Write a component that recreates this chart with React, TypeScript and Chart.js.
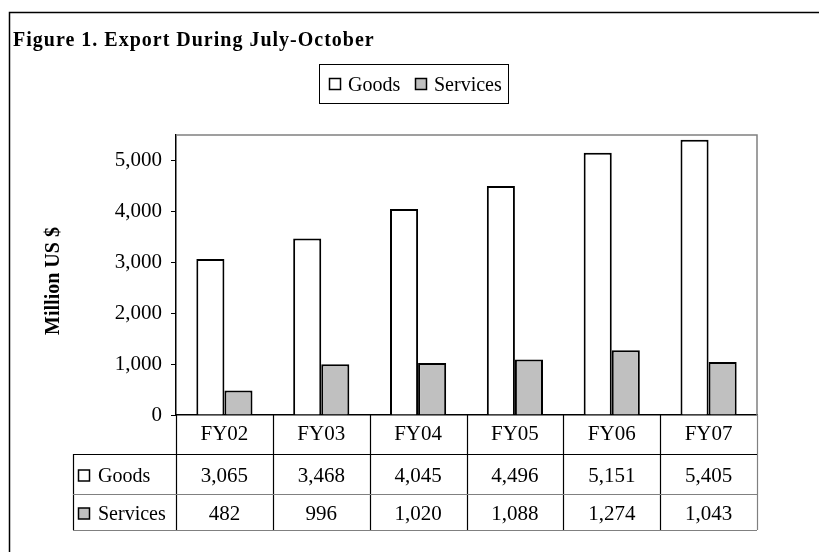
import React, { useEffect, useRef } from "react";
import { Chart, registerables } from "chart.js";

Chart.register(...registerables);

const titleText = "Figure 1. Export During July-October";
const yAxisTitle = "Million US $";
const categories = ["FY02", "FY03", "FY04", "FY05", "FY06", "FY07"];
const seriesNames = ["Goods", "Services"];
const goods = [3065, 3468, 4045, 4496, 5151, 5405];
const services = [482, 996, 1020, 1088, 1274, 1043];
const seriesColors = ["#ffffff", "#c0c0c0"];
const yMin = 0;
const yMax = 5500;
const yTicks = [0, 1000, 2000, 3000, 4000, 5000];

const FONT = '"Liberation Serif", "Times New Roman", serif';
const fmt = (v: number) => v.toLocaleString("en-US");

const decorPlugin = {
  id: "decor",
  afterDraw(chart: any) {
    const ctx = chart.ctx as CanvasRenderingContext2D;
    const ca = chart.chartArea;
    const xs = chart.scales.x;
    ctx.save();

    // outer frame
    ctx.strokeStyle = "#000";
    ctx.lineWidth = 1.5;
    ctx.strokeRect(9.5, 12.5, 900, 600);

    // title
    ctx.fillStyle = "#000";
    ctx.font = `bold 20px ${FONT}`;
    (ctx as any).letterSpacing = "1px";
    ctx.textAlign = "left";
    ctx.textBaseline = "alphabetic";
    ctx.fillText(titleText, 13, 46);
    (ctx as any).letterSpacing = "0px";

    // legend
    ctx.lineWidth = 1;
    ctx.strokeStyle = "#000";
    ctx.strokeRect(319.5, 64.5, 189, 39);
    ctx.font = `20px ${FONT}`;
    const legendX = [329, 415];
    chart.data.datasets.forEach((ds: any, i: number) => {
      ctx.fillStyle = ds.backgroundColor;
      ctx.fillRect(legendX[i] + 0.5, 78.5, 11, 11);
      ctx.lineWidth = 1.5;
      ctx.strokeStyle = "#000";
      ctx.strokeRect(legendX[i] + 0.5, 78.5, 11, 11);
      ctx.fillStyle = "#000";
      ctx.fillText(ds.label, legendX[i] + 19, 91);
    });

    // y axis title
    ctx.save();
    ctx.translate(54, (ca.top + ca.bottom) / 2 + 6);
    ctx.rotate(-Math.PI / 2);
    ctx.font = `bold 20px ${FONT}`;
    ctx.textAlign = "center";
    ctx.textBaseline = "middle";
    ctx.fillStyle = "#000";
    ctx.fillText(yAxisTitle, 0, 0);
    ctx.restore();

    // plot area top/right border
    ctx.strokeStyle = "#808080";
    ctx.lineWidth = 1.5;
    ctx.beginPath();
    ctx.moveTo(ca.left, ca.top);
    ctx.lineTo(ca.right, ca.top);
    ctx.lineTo(ca.right, ca.bottom);
    ctx.stroke();

    // data table
    const n = chart.data.labels.length;
    const step = (ca.right - ca.left) / n;
    const tLeft = 73;
    const rowTop = ca.bottom;
    const row1 = rowTop + 39;
    const row2 = row1 + 40;
    const row3 = row2 + 36;
    ctx.lineWidth = 1.2;
    ctx.strokeStyle = "#000";
    for (let i = 0; i <= n; i++) {
      const x = Math.round(ca.left + i * step) + 0.5;
      ctx.strokeStyle = i === n ? "#808080" : "#000";
      ctx.beginPath();
      ctx.moveTo(x, rowTop);
      ctx.lineTo(x, row3);
      ctx.stroke();
    }
    ctx.strokeStyle = "#000";
    ctx.beginPath();
    ctx.moveTo(tLeft + 0.5, row1);
    ctx.lineTo(tLeft + 0.5, row3);
    ctx.stroke();
    ctx.beginPath();
    ctx.moveTo(tLeft, row1 + 0.5);
    ctx.lineTo(ca.right, row1 + 0.5);
    ctx.stroke();
    ctx.strokeStyle = "#808080";
    ctx.beginPath();
    ctx.moveTo(tLeft, row2 + 0.5);
    ctx.lineTo(ca.right, row2 + 0.5);
    ctx.stroke();
    ctx.beginPath();
    ctx.moveTo(tLeft, row3 + 0.5);
    ctx.lineTo(ca.right, row3 + 0.5);
    ctx.stroke();

    ctx.font = `21px ${FONT}`;
    ctx.fillStyle = "#000";
    ctx.textBaseline = "alphabetic";
    ctx.textAlign = "center";
    const baselines = [rowTop + 25, row1 + 27.5, row2 + 25.5];
    chart.data.labels.forEach((lab: string, i: number) => {
      const cx = xs.getPixelForValue(i);
      ctx.fillText(lab, cx, baselines[0]);
      chart.data.datasets.forEach((ds: any, j: number) => {
        ctx.fillText(fmt(ds.data[i]), cx, baselines[j + 1]);
      });
    });
    ctx.textAlign = "left";
    ctx.font = `20px ${FONT}`;
    chart.data.datasets.forEach((ds: any, j: number) => {
      const by = baselines[j + 1];
      ctx.fillStyle = ds.backgroundColor;
      ctx.fillRect(78.5, by - 11.5, 11, 11);
      ctx.strokeStyle = "#000";
      ctx.lineWidth = 1.5;
      ctx.strokeRect(78.5, by - 11.5, 11, 11);
      ctx.fillStyle = "#000";
      ctx.fillText(ds.label, 98, by);
    });

    ctx.restore();
  },
};

export default function App() {
  const ref = useRef<HTMLCanvasElement | null>(null);
  useEffect(() => {
    document.body.style.margin = "0";
    const canvas = ref.current;
    if (!canvas) return;
    const chart = new Chart(canvas, {
      type: "bar",
      data: {
        labels: categories,
        datasets: [
          {
            label: seriesNames[0],
            data: goods,
            backgroundColor: seriesColors[0],
            borderColor: "#000",
            borderWidth: 2,
          },
          {
            label: seriesNames[1],
            data: services,
            backgroundColor: seriesColors[1],
            borderColor: "#000",
            borderWidth: 2,
          },
        ],
      },
      options: {
        animation: false,
        responsive: false,
        devicePixelRatio: 1,
        layout: { padding: { left: 0, top: 135, right: 62, bottom: 0 } },
        plugins: {
          legend: { display: false },
          title: { display: false },
          tooltip: { enabled: false },
        },
        datasets: {
          bar: { categoryPercentage: 0.58, barPercentage: 1 },
        },
        scales: {
          x: {
            ticks: { display: false },
            grid: { display: false, drawTicks: false },
            border: { display: true, color: "#000", width: 1.5 },
            afterFit: (s: any) => {
              s.height = 137;
            },
          },
          y: {
            min: yMin,
            max: yMax,
            afterBuildTicks: (s: any) => {
              s.ticks = yTicks.map((v) => ({ value: v }));
            },
            ticks: {
              color: "#000",
              font: { family: FONT, size: 21 },
              padding: 9,
              autoSkip: false,
              callback: (v: any) => fmt(Number(v)),
            },
            grid: {
              drawOnChartArea: false,
              drawTicks: true,
              tickLength: 5,
              color: "#000",
              tickColor: "#000",
            },
            border: { display: true, color: "#000", width: 1.5 },
            afterFit: (s: any) => {
              s.width = 176;
            },
          },
        },
      },
      plugins: [decorPlugin],
    } as any);
    return () => chart.destroy();
  }, []);
  return (
    <div style={{ width: 819, height: 552 }}>
      <canvas ref={ref} width={819} height={552} style={{ display: "block" }} />
    </div>
  );
}
